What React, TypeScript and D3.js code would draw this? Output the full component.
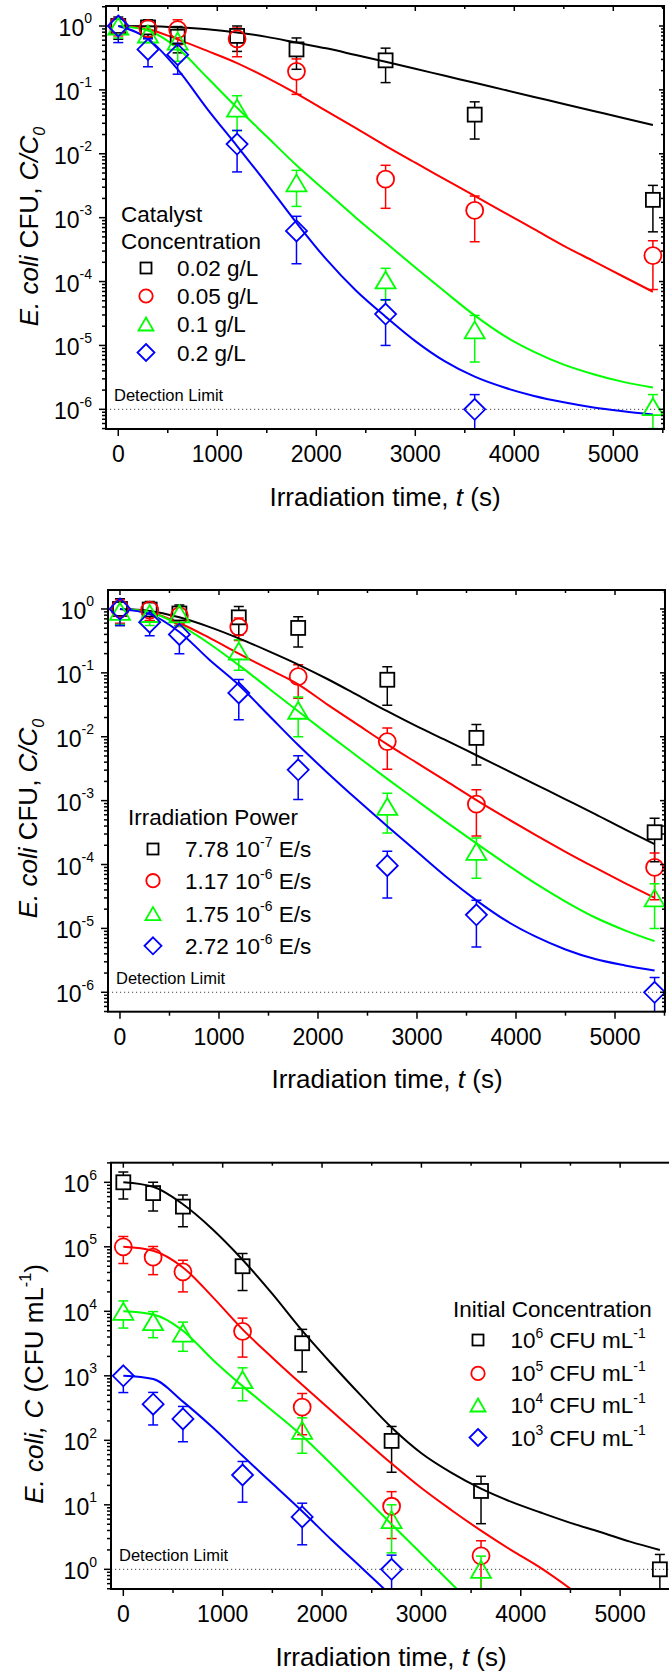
import React from "react";
import * as d3 from "d3";

const FONT = "'Liberation Sans', Arial, Helvetica, sans-serif";

// ---------- shared data ----------
const TIMES = [0, 300, 600, 1200, 1800, 2700, 3600, 5400];
const CURVE_T = [0, 300, 600, 900, 1200, 1500, 1800, 2100, 2400, 2700, 3000, 3300, 3600, 3900, 4200, 4500, 4800, 5100, 5400];
const X_TICKS = [0, 1000, 2000, 3000, 4000, 5000];
const X_MINOR = [500, 1500, 2500, 3500, 4500, 5500];
const COLORS = ["#000000", "#ff0000", "#00ff00", "#0000ff"];
const SHAPES = ["square", "circle", "triangle", "diamond"];

// ---------- panel A : catalyst concentration ----------
const A_LABELS = ["0.02 g/L", "0.05 g/L", "0.1 g/L", "0.2 g/L"];
const A_002 = [1.0, 0.95, 0.68, 0.7, 0.43, 0.29, 0.041, 0.0019];
const A_002_E = [0.38, 0.3, 0.3, 0.3, 0.22, 0.16, 0.024, 0.0013];
const A_005 = [1.0, 0.91, 0.88, 0.63, 0.195, 0.004, 0.0013, 0.000255];
const A_005_E = [0.3, 0.2, 0.37, 0.3, 0.11, 0.0026, 0.00088, 0.00018];
const A_01 = [1.0, 0.75, 0.58, 0.052, 0.0035, 0.000106, 1.75e-5, 1.1e-6];
const A_01_E = [0.35, 0.2, 0.3, 0.029, 0.002, 5.5e-5, 1.2e-5, 6e-7];
const A_02_T = [0, 300, 600, 1200, 1800, 2700, 3600];
const A_02 = [1.0, 0.43, 0.356, 0.0142, 0.00062, 3.1e-5, 1.0e-6];
const A_02_E = [0.45, 0.2, 0.18, 0.009, 0.00043, 2.1e-5, 7e-7];
const A_C002 = [1, 0.993, 0.955, 0.891, 0.794, 0.676, 0.55, 0.447, 0.351, 0.275, 0.214, 0.166, 0.129, 0.1, 0.0776, 0.0603, 0.0468, 0.0363, 0.0282];
const A_C005 = [1, 0.891, 0.617, 0.407, 0.263, 0.155, 0.0871, 0.0468, 0.0251, 0.0133, 0.00724, 0.00398, 0.00219, 0.0012, 0.000661, 0.000363, 0.000209, 0.00012, 6.92e-5];
const A_C01 = [1, 0.851, 0.447, 0.155, 0.0525, 0.0186, 0.00661, 0.00257, 0.001, 0.000407, 0.000166, 6.92e-5, 2.95e-5, 1.41e-5, 7.94e-6, 5.01e-6, 3.55e-6, 2.69e-6, 2.19e-6];
const A_C02 = [1, 0.631, 0.209, 0.0501, 0.0132, 0.00339, 0.000832, 0.000224, 7.24e-5, 2.82e-5, 1.17e-5, 5.62e-6, 3.24e-6, 2.19e-6, 1.62e-6, 1.29e-6, 1.07e-6, 9.33e-7, 8.32e-7];

// ---------- panel B : irradiation power ----------
const B_LABELS = [
  [{ t: "7.78 10" }, { t: "-7", sup: true }, { t: " E/s" }],
  [{ t: "1.17 10" }, { t: "-6", sup: true }, { t: " E/s" }],
  [{ t: "1.75 10" }, { t: "-6", sup: true }, { t: " E/s" }],
  [{ t: "2.72 10" }, { t: "-6", sup: true }, { t: " E/s" }],
];
const B_778 = [1.0, 0.98, 0.85, 0.74, 0.505, 0.078, 0.0096, 0.00032];
const B_778_E = [0.45, 0.33, 0.3, 0.35, 0.25, 0.047, 0.006, 0.00021];
const B_117 = [1.0, 0.96, 0.78, 0.52, 0.087, 0.0084, 0.00088, 9.0e-5];
const B_117_E = [0.4, 0.3, 0.25, 0.2, 0.047, 0.0053, 0.0006, 6.2e-5];
const B_175 = [0.92, 0.85, 0.84, 0.22, 0.026, 0.00081, 0.000161, 3.0e-5];
const B_175_E = [0.35, 0.3, 0.3, 0.11, 0.016, 0.0005, 0.0001, 2e-5];
const B_272 = [1.0, 0.62, 0.4, 0.0485, 0.00304, 9.6e-5, 1.63e-5, 1.0e-6];
const B_272_E = [0.45, 0.24, 0.2, 0.03, 0.002, 6.6e-5, 1.12e-5, 7e-7];
const B_C778 = [1, 0.933, 0.741, 0.525, 0.347, 0.219, 0.135, 0.0794, 0.0447, 0.0251, 0.0145, 0.00871, 0.00513, 0.00302, 0.00178, 0.00105, 0.000617, 0.000355, 0.000209];
const B_C117 = [1, 0.891, 0.603, 0.355, 0.2, 0.115, 0.0661, 0.0316, 0.0155, 0.00759, 0.00389, 0.002, 0.00102, 0.000537, 0.000288, 0.000158, 8.91e-5, 5.13e-5, 3.02e-5];
const B_C175 = [1, 0.891, 0.562, 0.288, 0.132, 0.0575, 0.0251, 0.011, 0.0049, 0.00219, 0.001, 0.000457, 0.000214, 0.000102, 5.01e-5, 2.63e-5, 1.48e-5, 9.33e-6, 6.31e-6];
const B_C272 = [1, 0.832, 0.437, 0.162, 0.0646, 0.0219, 0.00741, 0.00269, 0.00102, 0.000398, 0.000158, 6.31e-5, 2.75e-5, 1.32e-5, 7.41e-6, 4.68e-6, 3.31e-6, 2.63e-6, 2.19e-6];

// ---------- panel C : initial concentration ----------
const C_LABELS = [
  [{ t: "10" }, { t: "6", sup: true }, { t: " CFU mL" }, { t: "-1", sup: true }],
  [{ t: "10" }, { t: "5", sup: true }, { t: " CFU mL" }, { t: "-1", sup: true }],
  [{ t: "10" }, { t: "4", sup: true }, { t: " CFU mL" }, { t: "-1", sup: true }],
  [{ t: "10" }, { t: "3", sup: true }, { t: " CFU mL" }, { t: "-1", sup: true }],
];
const C_T5 = [0, 300, 600, 1200, 1800, 2700, 3600];
const C_T3 = [0, 300, 600, 1200, 1800, 2700];
const C_1E6 = [1.0e6, 6.8e5, 4.2e5, 5.0e4, 3.2e3, 98, 16.4, 1.0];
const C_1E6_E = [4.5e5, 3.2e5, 2.15e5, 2.9e4, 2.05e3, 66, 11.3, 0.7];
const C_1E5 = [1.0e5, 6.9e4, 4.1e4, 4.9e3, 327, 9.5, 1.62];
const C_1E5_E = [4.5e4, 3.2e4, 2.1e4, 2.95e3, 205, 6.5, 1.15];
const C_1E4 = [1.0e4, 6.9e3, 4.6e3, 870, 143, 5.9, 1.0];
const C_1E4_E = [4.5e3, 3.0e3, 2.2e3, 460, 80, 4.1, 0.6];
const C_1E3 = [1000, 363, 215, 29, 6.5, 1.0];
const C_1E3_E = [450, 190, 120, 18, 4.1, 0.66];
const C_CT6 = CURVE_T;
const C_C1E6 = [1e6, 8.51e5, 4.57e5, 1.86e5, 6.31e4, 1.86e4, 5.01e3, 1.51e3, 479, 158, 63.1, 31.6, 17.8, 11.2, 7.59, 5.25, 3.8, 2.69, 2.0];
const C_CT5 = [0, 300, 600, 900, 1200, 1500, 1800, 2100, 2400, 2700, 3000, 3300, 3600, 3900, 4200, 4500];
const C_C1E5 = [1e5, 8.71e4, 4.79e4, 1.66e4, 5.25e3, 1.91e3, 724, 282, 110, 43.7, 18.2, 8.32, 3.98, 2.0, 1.05, 0.5];
const C_CT4 = [0, 300, 600, 900, 1200, 1500, 1800, 2100, 2400, 2700, 3000, 3360];
const C_C1E4 = [1e4, 8.91e3, 5.01e3, 1.78e3, 692, 288, 117, 41.7, 14.5, 5.01, 1.74, 0.49];
const C_CT3 = [0, 300, 600, 900, 1200, 1500, 1800, 2100, 2400, 2630];
const C_C1E3 = [1000, 891, 398, 158, 57.5, 21.4, 7.94, 2.82, 1.05, 0.49];

// ---------- text ----------
const X_TITLE = [{ t: "Irradiation time, " }, { t: "t", it: true }, { t: " (s)" }];
const Y_TITLE_RATIO = [{ t: "E. coli", it: true }, { t: " CFU,  " }, { t: "C/C", it: true }, { t: "0", it: true, sub: true }];
const Y_TITLE_ABS = [{ t: "E. coli,", it: true }, { t: " " }, { t: "C", it: true }, { t: " (CFU mL" }, { t: "-1", sup: true }, { t: ")" }];
const DETECTION = "Detection Limit";

type Seg = { t: string; sup?: boolean; sub?: boolean; it?: boolean };

function mk(t: number[], v: number[], e: number[], ct: number[], cv: number[], i: number) {
  return { t, v, e, ct, cv, color: COLORS[i], shape: SHAPES[i] };
}

const PANELS = [
  {
    id: "a", left: 106, right: 664, top: 6, bottom: 429, xDomain: [-124, 5512], yLo: -6.308, yHi: 0.313,
    detect: 1e-6, yTitle: Y_TITLE_RATIO, yTitleX: 38, yTitleY: 226.5, xTitleX: 385, xTitleY: 506,
    legendTitle: ["Catalyst", "Concentration"], legendTitleX: 121, legendTitleY: [222, 248.5],
    legendRows: [268, 296, 324, 352.5], legendSymX: 146, legendTextX: 177,
    labels: A_LABELS.map((s) => [{ t: s }]),
    series: [
      mk(TIMES, A_002, A_002_E, CURVE_T, A_C002, 0),
      mk(TIMES, A_005, A_005_E, CURVE_T, A_C005, 1),
      mk(TIMES, A_01, A_01_E, CURVE_T, A_C01, 2),
      mk(A_02_T, A_02, A_02_E, CURVE_T, A_C02, 3),
    ],
  },
  {
    id: "b", left: 108, right: 665, top: 590, bottom: 1011.7, xDomain: [-121, 5505], yLo: -6.304, yHi: 0.297,
    detect: 1e-6, yTitle: Y_TITLE_RATIO, yTitleX: 37, yTitleY: 818.5, xTitleX: 387, xTitleY: 1088,
    legendTitle: ["Irradiation Power"], legendTitleX: 128, legendTitleY: [825],
    legendRows: [849, 880.7, 913.6, 945.8], legendSymX: 153, legendTextX: 185,
    labels: B_LABELS,
    series: [
      mk(TIMES, B_778, B_778_E, CURVE_T, B_C778, 0),
      mk(TIMES, B_117, B_117_E, CURVE_T, B_C117, 1),
      mk(TIMES, B_175, B_175_E, CURVE_T, B_C175, 2),
      mk(TIMES, B_272, B_272_E, CURVE_T, B_C272, 3),
    ],
  },
  {
    id: "c", left: 111, right: 671, top: 1162.7, bottom: 1589, xDomain: [-124, 5512], yLo: -0.305, yHi: 6.304,
    detect: 1, yTitle: Y_TITLE_ABS, yTitleX: 43, yTitleY: 1384, xTitleX: 391, xTitleY: 1666,
    legendTitle: ["Initial Concentration"], legendTitleX: 453, legendTitleY: [1317],
    legendRows: [1340, 1373.4, 1405, 1437.5], legendSymX: 478, legendTextX: 510.5,
    labels: C_LABELS,
    series: [
      mk(TIMES, C_1E6, C_1E6_E, C_CT6, C_C1E6, 0),
      mk(C_T5, C_1E5, C_1E5_E, C_CT5, C_C1E5, 1),
      mk(C_T5, C_1E4, C_1E4_E, C_CT4, C_C1E4, 2),
      mk(C_T3, C_1E3, C_1E3_E, C_CT3, C_C1E3, 3),
    ],
  },
];

// marker geometry
const PLOT_M = { square: 7, circle: 8.5, triangle: [10, 8.5], diamond: 10.5 } as any;
const LEG_M = { square: 5.5, circle: 6.7, triangle: [7.5, 6.5], diamond: 8.5 } as any;

function halfH(shape: string, m: any) {
  if (shape === "triangle") return m.triangle[1];
  return m[shape];
}

function Marker({ shape, cx, cy, color, m }: any) {
  const common = { fill: "none", stroke: color, strokeWidth: 1.8 };
  if (shape === "square") {
    const h = m.square;
    return <rect x={cx - h} y={cy - h} width={2 * h} height={2 * h} {...common} />;
  }
  if (shape === "circle") return <circle cx={cx} cy={cy} r={m.circle} {...common} />;
  if (shape === "triangle") {
    const [hw, hh] = m.triangle;
    return <polygon points={`${cx},${cy - hh} ${cx + hw},${cy + hh} ${cx - hw},${cy + hh}`} {...common} />;
  }
  const h = m.diamond;
  return <polygon points={`${cx},${cy - h} ${cx + h},${cy} ${cx},${cy + h} ${cx - h},${cy}`} {...common} />;
}

function Segs({ segs, size }: { segs: Seg[]; size: number }) {
  let off = 0;
  const out: any[] = [];
  segs.forEach((s, i) => {
    let target = 0;
    let fs = size;
    if (s.sup) { target = -size * 0.45; fs = size * 0.62; }
    if (s.sub) { target = size * 0.25; fs = size * 0.62; }
    const dy = target - off;
    off = target;
    out.push(
      <tspan key={i} dy={dy} fontSize={fs} fontStyle={s.it ? "italic" : "normal"}>
        {s.t}
      </tspan>
    );
  });
  return <>{out}</>;
}

function Panel({ cfg }: any) {
  const x = d3.scaleLinear().domain(cfg.xDomain).range([cfg.left, cfg.right]);
  const y = d3.scaleLog().domain([Math.pow(10, cfg.yLo), Math.pow(10, cfg.yHi)]).range([cfg.bottom, cfg.top]);
  const clipId = `clip-${cfg.id}`;
  const line = d3
    .line<[number, number]>()
    .x((d) => x(d[0]))
    .y((d) => y(d[1]))
    .curve(d3.curveMonotoneX);

  const majors: number[] = [];
  const minors: number[] = [];
  for (let e = Math.floor(cfg.yLo) - 1; e <= Math.ceil(cfg.yHi); e++) {
    if (e >= cfg.yLo && e <= cfg.yHi) majors.push(e);
    for (let k = 2; k <= 9; k++) {
      const lv = e + Math.log10(k);
      if (lv > cfg.yLo && lv < cfg.yHi) minors.push(Math.pow(10, lv));
    }
  }
  const xMaj = X_TICKS.filter((t) => t >= cfg.xDomain[0] && t <= cfg.xDomain[1]);
  const xMin = X_MINOR.filter((t) => t >= cfg.xDomain[0] && t <= cfg.xDomain[1]);
  const L = cfg.left, R = cfg.right, T = cfg.top, B = cfg.bottom;
  const showRight = R <= 668;

  return (
    <g>
      <defs>
        <clipPath id={clipId}>
          <rect x={L} y={T} width={R - L} height={B - T} />
        </clipPath>
      </defs>

      {/* detection limit */}
      <line x1={L} x2={R} y1={y(cfg.detect)} y2={y(cfg.detect)} stroke="#444" strokeWidth={1} strokeDasharray="1.2,2.8" />
      <text x={L + 8} y={y(cfg.detect) - 8} fontSize={16.5} fill="#000">{DETECTION}</text>

      {/* error bars and model curves */}
      <g clipPath={`url(#${clipId})`}>
        {cfg.series.map((s: any, si: number) =>
          s.t.map((t: number, i: number) => {
            const cx = x(t);
            const cy = y(s.v[i]);
            const hh = halfH(s.shape, PLOT_M);
            const up = y(s.v[i] + s.e[i]);
            const lowV = s.v[i] - s.e[i];
            const lo = lowV > 0 ? y(lowV) : B + 30;
            const els: any[] = [];
            if (up < cy - hh) {
              els.push(<line key="u" x1={cx} x2={cx} y1={cy - hh} y2={up} />);
              els.push(<line key="uc" x1={cx - 5} x2={cx + 5} y1={up} y2={up} />);
            }
            if (lo > cy + hh) {
              els.push(<line key="l" x1={cx} x2={cx} y1={cy + hh} y2={lo} />);
              els.push(<line key="lc" x1={cx - 5} x2={cx + 5} y1={lo} y2={lo} />);
            }
            return (
              <g key={`${si}-${i}`} stroke={s.color} strokeWidth={1.5}>
                {els}
              </g>
            );
          })
        )}
        {cfg.series.map((s: any, si: number) => (
          <path
            key={`c${si}`}
            d={line(s.ct.map((t: number, i: number) => [t, s.cv[i]]) as [number, number][]) || ""}
            fill="none"
            stroke={s.color}
            strokeWidth={2}
          />
        ))}
      </g>

      {/* markers */}
      {cfg.series.map((s: any, si: number) =>
        s.t.map((t: number, i: number) => (
          <Marker key={`m${si}-${i}`} shape={s.shape} cx={x(t)} cy={y(s.v[i])} color={s.color} m={PLOT_M} />
        ))
      )}

      {/* frame */}
      <rect x={L} y={T} width={R - L} height={B - T} fill="none" stroke="#000" strokeWidth={2} />

      {/* ticks */}
      <g stroke="#000" strokeWidth={1.5}>
        {majors.map((e) => (
          <g key={`ym${e}`}>
            <line x1={L - 7} x2={L} y1={y(Math.pow(10, e))} y2={y(Math.pow(10, e))} />
            {showRight && <line x1={R} x2={R - 5} y1={y(Math.pow(10, e))} y2={y(Math.pow(10, e))} />}
          </g>
        ))}
        {minors.map((v, i) => (
          <g key={`yn${i}`}>
            <line x1={L - 4} x2={L} y1={y(v)} y2={y(v)} />
            {showRight && <line x1={R} x2={R - 3} y1={y(v)} y2={y(v)} />}
          </g>
        ))}
        {xMaj.map((t) => (
          <g key={`xm${t}`}>
            <line x1={x(t)} x2={x(t)} y1={B} y2={B + 7} />
            <line x1={x(t)} x2={x(t)} y1={T} y2={T + 5} />
          </g>
        ))}
        {xMin.map((t) => (
          <g key={`xn${t}`}>
            <line x1={x(t)} x2={x(t)} y1={B} y2={B + 4} />
            <line x1={x(t)} x2={x(t)} y1={T} y2={T + 3} />
          </g>
        ))}
      </g>

      {/* y tick labels */}
      {majors.map((e) => (
        <text key={`yl${e}`} x={L - 14} y={y(Math.pow(10, e)) + 10} fontSize={23} textAnchor="end" fill="#000">
          <tspan>10</tspan>
          <tspan dy={-12.5} fontSize={14}>{String(e)}</tspan>
        </text>
      ))}
      {/* x tick labels */}
      {xMaj.map((t) => (
        <text key={`xl${t}`} x={x(t)} y={B + 33} fontSize={23} textAnchor="middle" fill="#000">
          {String(t)}
        </text>
      ))}

      {/* axis titles */}
      <text x={cfg.xTitleX} y={cfg.xTitleY} fontSize={26} textAnchor="middle" fill="#000">
        <Segs segs={X_TITLE} size={26} />
      </text>
      <text
        transform={`translate(${cfg.yTitleX},${cfg.yTitleY}) rotate(-90)`}
        fontSize={26}
        textAnchor="middle"
        fill="#000"
      >
        <Segs segs={cfg.yTitle} size={26} />
      </text>

      {/* legend */}
      {cfg.legendTitle.map((s: string, i: number) => (
        <text key={`lt${i}`} x={cfg.legendTitleX} y={cfg.legendTitleY[i]} fontSize={22.5} fill="#000">
          {s}
        </text>
      ))}
      {cfg.series.map((s: any, i: number) => (
        <g key={`lg${i}`}>
          <Marker shape={s.shape} cx={cfg.legendSymX} cy={cfg.legendRows[i]} color={s.color} m={LEG_M} />
          <text x={cfg.legendTextX} y={cfg.legendRows[i] + 8} fontSize={22.5} fill="#000">
            <Segs segs={cfg.labels[i]} size={22.5} />
          </text>
        </g>
      ))}
    </g>
  );
}

export default function App() {
  return (
    <svg
      width={669}
      height={1679}
      viewBox="0 0 669 1679"
      style={{ position: "absolute", left: 0, top: 0, display: "block" }}
      fontFamily={FONT}
    >
      <rect x={0} y={0} width={669} height={1679} fill="#fff" />
      {PANELS.map((p) => (
        <Panel key={p.id} cfg={p} />
      ))}
    </svg>
  );
}
